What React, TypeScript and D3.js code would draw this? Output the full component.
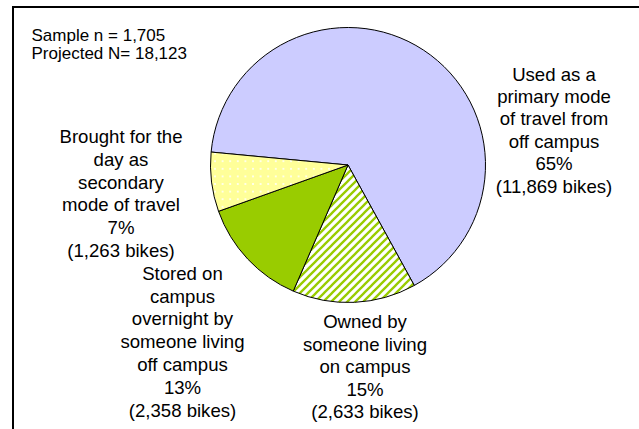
import React from "react";
import * as d3 from "d3";

// ---- data ----
const categories = [
  "Used as a primary mode of travel from off campus",
  "Owned by someone living on campus",
  "Stored on campus overnight by someone living off campus",
  "Brought for the day as secondary mode of travel",
];
const bikes = [11869, 2633, 2358, 1263];
const percents = ["65%", "15%", "13%", "7%"];
const labelLines = [
  ["Used as a", "primary mode", "of travel from", "off campus"],
  ["Owned by", "someone living", "on campus"],
  ["Stored on", "campus", "overnight by", "someone living", "off campus"],
  ["Brought for the", "day as", "secondary", "mode of travel"],
];
const sampleText = ["Sample n = 1,705", "Projected N= 18,123"];

// ---- layout ----
const W = 639;
const H = 429;
const cx = 348;
const cy = 165;
const R = 137.5;
const startDeg = -84.6;
const fills = ["#CCCCFF", "url(#stripes)", "#99CC00", "url(#dots)"];
const labelPos = [
  { x: 554, y: 74, lh: 22.4 },
  { x: 365, y: 321.5, lh: 22.6 },
  { x: 182.5, y: 273.3, lh: 22.8 },
  { x: 121, y: 136.7, lh: 22.7 },
];
const fontFamily = "'Liberation Sans', Arial, Helvetica, sans-serif";

export default function App() {
  const start = (startDeg * Math.PI) / 180;
  const pie = d3
    .pie<number>()
    .sort(null)
    .value((d) => d)
    .startAngle(start)
    .endAngle(start + 2 * Math.PI);
  const arcs = pie(bikes);
  const arc = d3.arc<d3.PieArcDatum<number>>().innerRadius(0).outerRadius(R);
  const fmt = d3.format(",");

  return (
    <svg
      width={W}
      height={H}
      style={{ position: "absolute", left: 0, top: 0, background: "#fff" }}
      fontFamily={fontFamily}
    >
      <defs>
        <pattern id="stripes" patternUnits="userSpaceOnUse" width={8} height={8}>
          <rect width={8} height={8} fill="#ffffff" />
          <path
            d="M-2,2 L2,-2 M0,8 L8,0 M6,10 L10,6"
            stroke="#99CC00"
            strokeWidth={2.3}
          />
        </pattern>
        <pattern id="dots" patternUnits="userSpaceOnUse" width={7.6} height={7.6}>
          <rect width={7.6} height={7.6} fill="#FFFF99" />
          <circle cx={3.8} cy={3.8} r={1} fill="#ffffff" />
        </pattern>
      </defs>
      <rect x={0} y={0} width={W} height={H} fill="#fff" />
      <line x1={13} y1={7} x2={13} y2={H} stroke="#000" strokeWidth={2} />
      <line x1={12} y1={7} x2={W} y2={7} stroke="#000" strokeWidth={2} />

      <g transform={`translate(${cx},${cy})`}>
        {arcs.map((a, i) => (
          <path
            key={categories[i]}
            d={arc(a) || ""}
            fill={fills[i]}
            stroke="#000"
            strokeWidth={1}
          />
        ))}
      </g>

      {sampleText.map((t, i) => (
        <text
          key={t}
          x={31.5}
          y={35 + i * 18.3}
          fontSize={17}
          dominantBaseline="central"
          fill="#000"
        >
          {t}
        </text>
      ))}

      {labelLines.map((lines, i) => {
        const all = [...lines, percents[i], `(${fmt(bikes[i])} bikes)`];
        return (
          <text
            key={categories[i]}
            fontSize={18.6}
            textAnchor="middle"
            fill="#000"
          >
            {all.map((l, j) => (
              <tspan
                key={j}
                x={labelPos[i].x}
                y={labelPos[i].y + j * labelPos[i].lh}
                dominantBaseline="central"
              >
                {l}
              </tspan>
            ))}
          </text>
        );
      })}
    </svg>
  );
}
